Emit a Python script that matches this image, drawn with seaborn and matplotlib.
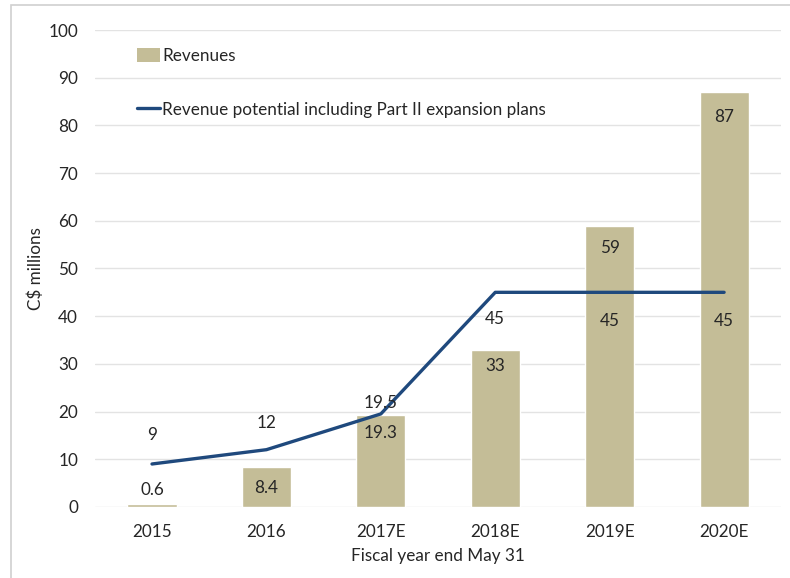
import matplotlib
matplotlib.use("Agg")
import matplotlib.pyplot as plt
from matplotlib.patches import Rectangle
from matplotlib.lines import Line2D
import seaborn as sns
import pandas as pd

# Fiscal years and revenue figures (C$ millions)
years = ["2015", "2016", "2017E", "2018E", "2019E", "2020E"]
revenues = [0.6, 8.4, 19.3, 33, 59, 87]
potential = [9, 12, 19.5, 45, 45, 45]
revenue_labels = ["0.6", "8.4", "19.3", "33", "59", "87"]
potential_labels = ["9", "12", "19.5", "45", "45", "45"]

df = pd.DataFrame({"year": years, "revenues": revenues, "potential": potential})

BAR = "#C4BD97"
LINE = "#1F497D"
TXT = "#262626"
FS = 12.3

sns.set_theme(style="white")
plt.rcParams["font.family"] = ["Lato", "DejaVu Sans"]

fig = plt.figure(figsize=(7.9, 5.78), dpi=100)
ax = fig.add_axes([0.120, 0.123, 0.869, 0.825])

sns.barplot(data=df, x="year", y="revenues", color=BAR, width=0.43,
            saturation=1, ax=ax, zorder=2)
sns.lineplot(data=df, x="year", y="potential", color=LINE, linewidth=2.4,
             sort=False, ax=ax, zorder=3)

ax.set_ylim(0, 100)
ax.set_xlim(-0.5, 5.5)
ax.set_yticks(range(0, 101, 10))
ax.yaxis.grid(True, color="#E3E3E3", linewidth=1)
ax.set_axisbelow(True)
for s in ax.spines.values():
    s.set_visible(False)
ax.tick_params(axis="both", length=0, labelsize=FS, colors=TXT)
ax.tick_params(axis="x", pad=12)
ax.tick_params(axis="y", pad=12)
ax.set_xlabel("Fiscal year end May 31", fontsize=FS, color=TXT, labelpad=6)
ax.set_ylabel("C$ millions", fontsize=FS, color=TXT, labelpad=3)

# Value labels for bars
bar_offsets = [10, -15, -13, -12, -16, -18]
for i, (v, lab, off) in enumerate(zip(revenues, revenue_labels, bar_offsets)):
    ax.annotate(lab, (i, v), xytext=(0, off), textcoords="offset points",
                ha="center", va="center", fontsize=FS, color=TXT, zorder=5)

# Value labels for the potential line
line_offsets = [21, 19, 8, -19, -21, -21]
for i, (v, lab, off) in enumerate(zip(potential, potential_labels, line_offsets)):
    ax.annotate(lab, (i, v), xytext=(0, off), textcoords="offset points",
                ha="center", va="center", fontsize=FS, color=TXT, zorder=5)

handles = [Rectangle((0, 0), 1, 1, facecolor=BAR, edgecolor="none"),
           Line2D([0], [0], color=LINE, linewidth=2.4)]
ax.legend(handles, ["Revenues", "Revenue potential including Part II expansion plans"],
          loc="upper left", bbox_to_anchor=(0.039, 0.994), frameon=False,
          fontsize=FS, labelspacing=2.2, handlelength=1.35, handleheight=0.9,
          handletextpad=0.12, labelcolor=TXT)

# Light frame around the chart area
fig.patches.append(Rectangle((11 / 790, -0.05), 1.2, (578 - 5) / 578 + 0.05,
                             transform=fig.transFigure, fill=False,
                             edgecolor="#D0D0D0", linewidth=1.2))

fig.savefig("out.png", dpi=100)
